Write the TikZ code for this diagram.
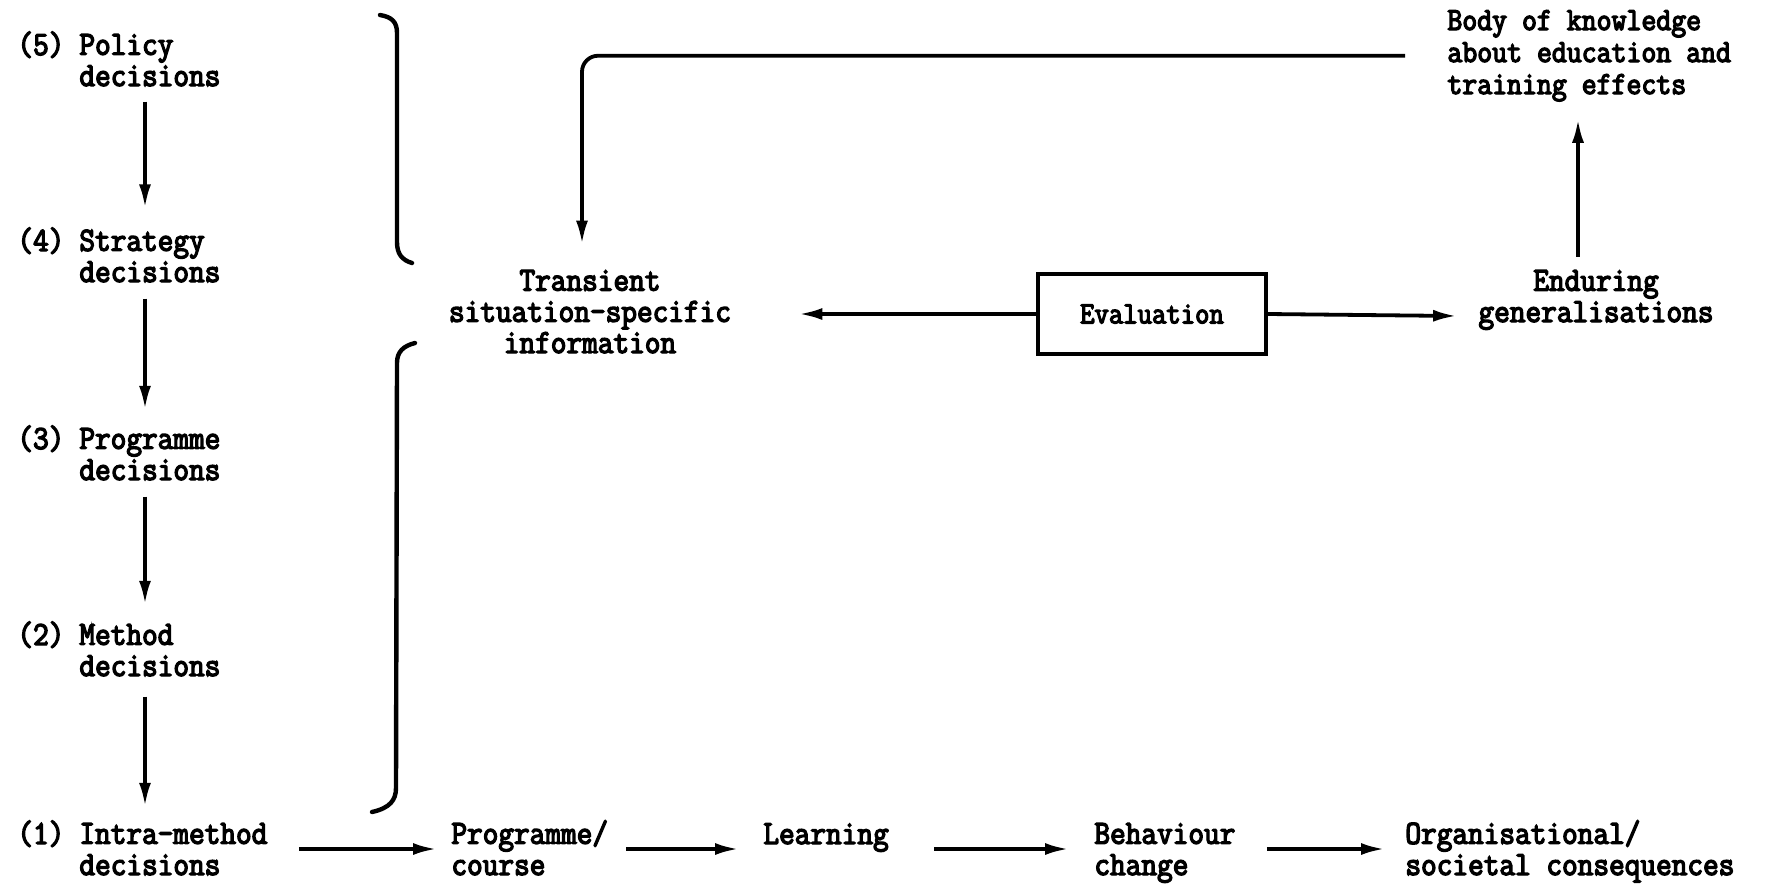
\documentclass[tikz,border=0pt]{standalone}
\usepackage{fontspec}
\newfontfamily\tw[FakeStretch=0.9,FakeBold=4]{Latin Modern Mono}
\usetikzlibrary{arrows.meta,calc}
\begin{document}
\begin{tikzpicture}[x=0.5pt,y=-0.5pt,
  txt/.style={inner sep=0pt, font=\tw\fontsize{16.9}{15.6}\selectfont, align=left},
  arr/.style={line width=1.9pt, -{Latex[length=12pt,width=6pt]}},
  brk/.style={line width=2.2pt, line cap=round}]
\useasboundingbox (0,0) rectangle (1768,884);

% left column
\node[txt,anchor=base west] (n5) at (17,55) {(5)};
\node[txt,anchor=base west] (p5) at (79,86) {Policy\\decisions};
\node[txt,anchor=base west] (n4) at (17,251) {(4)};
\node[txt,anchor=base west] (p4) at (79,282) {Strategy\\decisions};
\node[txt,anchor=base west] (n3) at (17,449) {(3)};
\node[txt,anchor=base west] (p3) at (79,480) {Programme\\decisions};
\node[txt,anchor=base west] (n2) at (17,645) {(2)};
\node[txt,anchor=base west] (p2) at (79,676) {Method\\decisions};
\node[txt,anchor=base west] (n1) at (17,844) {(1)};
\node[txt,anchor=base west] (p1) at (79,875) {Intra-method\\decisions};

\draw[arr] ($(p5.south west)+(66,15)$) -- ($(p4.north west)+(66,-21)$);
\draw[arr] ($(p4.south west)+(66,16)$) -- ($(p3.north west)+(66,-18)$);
\draw[arr] ($(p3.south west)+(66,16)$) -- ($(p2.north west)+(66,-19)$);
\draw[arr] ($(p2.south west)+(66,20)$) -- ($(p1.north west)+(66,-16)$);

% bottom row
\node[txt,anchor=base west] (pc) at (451,875) {Programme/\\course};
\node[txt,anchor=base west] (lr) at (763,844) {Learning};
\node[txt,anchor=base west] (bc) at (1094,875) {Behaviour\\change};
\node[txt,anchor=base west] (oc) at (1405,875) {Organisational/\\societal consequences};

\draw[arr] ($(p1.base east)+(31,-26)$) -- ($(pc.base west)+(-14,-26)$);
\draw[arr] ($(pc.base east)+(18,-26)$) -- ($(lr.base west)+(-24,5)$);
\draw[arr] ($(lr.base east)+(45,5)$) -- ($(bc.base west)+(-25,-26)$);
\draw[arr] ($(bc.base east)+(31,-26)$) -- ($(oc.base west)+(-20,-26)$);

% brackets
\draw[brk] (380,15) .. controls (392,17) and (397,22) .. (397,33) -- (397,242) .. controls (397,254) and (402,260) .. (412,263);
\draw[brk] (415,343) .. controls (403,346) and (397,352) .. (397,363) -- (396,788) .. controls (396,800) and (390,808) .. (372,812);

% middle
\node[txt,anchor=base,align=center] (tr) at (590,353) {Transient\\situation-specific\\information};
\node[draw,line width=1.9pt,minimum width=114pt,minimum height=40pt,inner sep=0pt,
      font=\tw\fontsize{15.5}{15}\selectfont] (ev) at (1152,314) {Evaluation\hspace{16pt}};
\node[txt,anchor=base,align=center] (en) at (1596,322) {Enduring\\generalisations};
\node[txt,anchor=base west,font=\tw\fontsize{16.1}{16}\selectfont] (bk) at (1447,94) {Body of knowledge\\about education and\\training effects};

\draw[arr] (ev.west) -- ($(tr.east |- ev.west)+(67,0)$);
\draw[arr] (ev.east) -- ($(en.west |- ev.east)+(-21,2)$);
\draw[arr] ($(en.north)+(-18,-13)$) -- ($(en.north |- bk.south)+(-18,17)$);
\draw[arr,rounded corners=8pt] ($(bk.west)+(-42,0)$) -| ($(tr.north)+(-8,-25)$);
\end{tikzpicture}
\end{document}
